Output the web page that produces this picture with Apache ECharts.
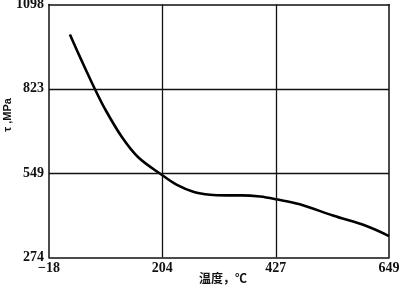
<!DOCTYPE html>
<html>
<head>
<meta charset="utf-8">
<script src="https://cdn.jsdelivr.net/npm/echarts@6/dist/echarts.min.js"></script>
<style>html,body{margin:0;padding:0;background:#fff}#c{width:400px;height:286px}</style>
</head>
<body>
<div id="c"></div>
<script>
var xTicks = [-18, 204, 427, 649];
var yTicks = [274, 549, 823, 1098];
var temperature = [23, 46, 71, 92, 125, 157, 203, 233, 265, 298, 330, 360, 396, 428, 474, 539, 606, 649];
var shearStress = [1000, 915, 826, 757, 666, 600, 543, 510, 488, 478, 476, 476, 472, 463, 447, 410, 375, 343];

var chart = echarts.init(document.getElementById('c'), null, {renderer: 'canvas'});
var pts = temperature.map(function (t, i) { return [t, shearStress[i]]; });
var labelFont = {fontFamily: 'Liberation Serif', fontWeight: 'bold', fontSize: 14, color: '#111'};
var frameLine = {show: true, onZero: false, lineStyle: {color: '#111', width: 1.5}};
chart.setOption({
  animation: false,
  backgroundColor: '#fff',
  grid: {left: 49, right: 11, top: 4.5, bottom: 28.7, containLabel: false, outerBoundsMode: 'none'},
  xAxis: [{
    type: 'value', min: -18, max: 649,
    name: '温度，℃', nameLocation: 'middle', nameGap: 15, nameMoveOverlap: false,
    nameTextStyle: {fontFamily: 'Noto Sans CJK SC', fontWeight: 'bold', fontSize: 12, color: '#111', verticalAlign: 'top', padding: [0, 0, 0, 8]},
    axisLine: frameLine,
    axisTick: {show: false, customValues: xTicks},
    axisLabel: Object.assign({customValues: xTicks, margin: 4, formatter: function (v) { return v < 0 ? '\u2212' + (-v) : String(v); }}, labelFont),
    splitLine: {show: false}
  }, {
    type: 'value', position: 'top', min: -18, max: 649,
    axisLine: frameLine, axisTick: {show: false}, axisLabel: {show: false}, splitLine: {show: false}
  }],
  yAxis: [{
    type: 'value', min: 274, max: 1098,
    name: 'τ ,MPa', nameLocation: 'middle', nameGap: 36, nameMoveOverlap: false,
    nameTextStyle: {fontFamily: 'Liberation Sans', fontWeight: 'bold', fontSize: 11, color: '#111', padding: [0, 0, 0, 32]},
    axisLine: frameLine,
    axisTick: {show: false, customValues: yTicks},
    axisLabel: Object.assign({customValues: yTicks, margin: 5, formatter: function (v) { return String(v); }}, labelFont),
    splitLine: {show: false}
  }, {
    type: 'value', position: 'right', min: 274, max: 1098,
    axisLine: frameLine, axisTick: {show: false}, axisLabel: {show: false}, splitLine: {show: false}
  }],
  series: [{
    type: 'line', data: pts, smooth: 0.35, showSymbol: false,
    lineStyle: {color: '#000', width: 2.6},
    markLine: {
      silent: true, symbol: 'none', label: {show: false},
      lineStyle: {color: '#111', width: 1.3, type: 'solid'},
      data: xTicks.slice(1, -1).map(function (v) { return {xAxis: v}; })
        .concat(yTicks.slice(1, -1).map(function (v) { return {yAxis: v}; }))
    }
  }]
});
</script>
</body>
</html>
